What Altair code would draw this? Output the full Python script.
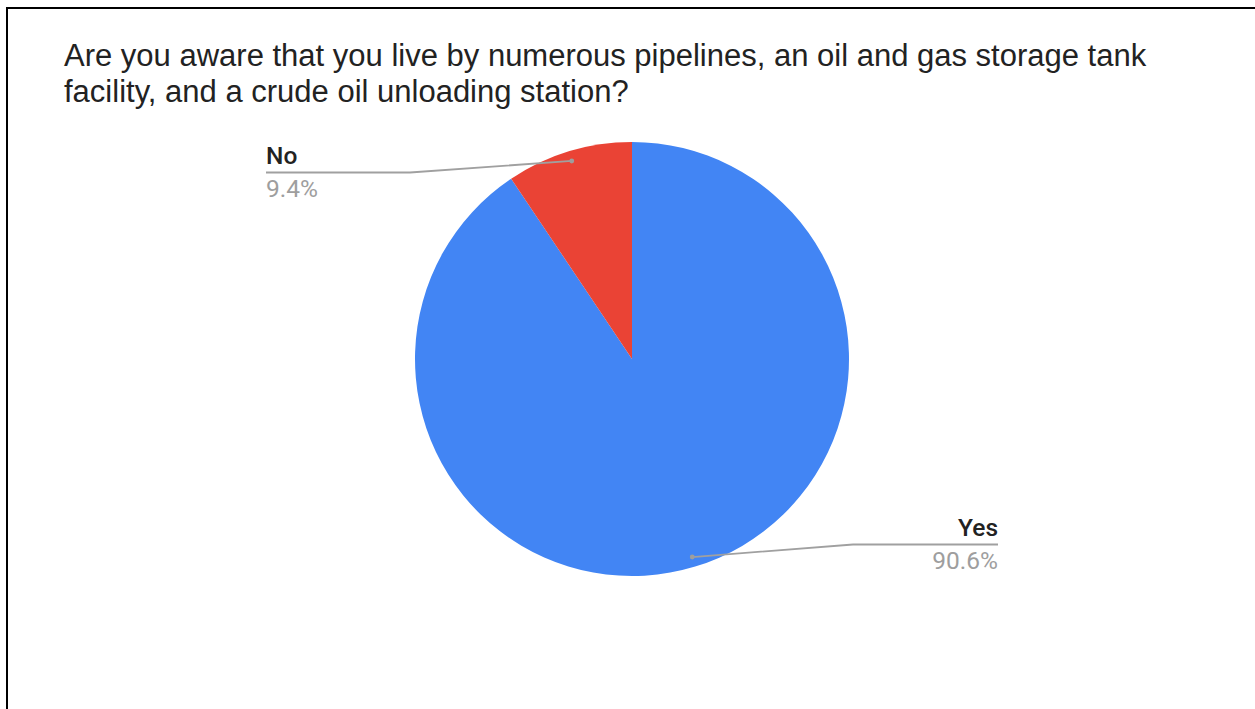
import math
import altair as alt
import pandas as pd

# ---- data ----
categories = ["Yes", "No"]
values = [90.6, 9.4]
pct_labels = ["90.6%", "9.4%"]
title_lines = [
    "Are you aware that you live by numerous pipelines, an oil and gas storage tank",
    "facility, and a crude oil unloading station?",
]

# ---- layout (positions / styles) ----
W, H = 1255, 709
CX, CY, R = 632, 359, 217
DOT_R = 0.954 * R
BLUE, RED = "#4285F4", "#EA4335"
side_layout = {
    # side: (elbow_x, line_y, end_x)
    "right": (853, 544.5, 998),
    "left": (410, 172.5, 266),
}

pie_df = pd.DataFrame({"category": categories, "value": values,
                       "idx": list(range(len(categories)))})

# leader lines derived from the slice mid-angles
total = sum(values)
rows, lab = [], []
cum = 0.0
for cat, v, p in zip(categories, values, pct_labels):
    mid = (cum + v / 2) / total * 2 * math.pi
    cum += v
    dx, dy = CX + DOT_R * math.sin(mid), CY - DOT_R * math.cos(mid)
    side = "right" if math.sin(mid) >= 0 else "left"
    ex, ly, endx = side_layout[side]
    rows += [
        {"category": cat, "step": 0, "px": dx, "py": dy},
        {"category": cat, "step": 1, "px": ex, "py": ly},
        {"category": cat, "step": 2, "px": endx, "py": ly},
    ]
    lab.append({"category": cat, "pct": p, "side": side, "dotx": dx, "doty": dy,
                "tx": endx, "ny": ly - 8.5, "py": ly + 24.5})
line_df = pd.DataFrame(rows)
lab_df = pd.DataFrame(lab)

pie = alt.Chart(pie_df).mark_arc(radius=R).encode(
    theta=alt.Theta("value:Q", stack=True),
    order=alt.Order("idx:O"),
    color=alt.Color("category:N", scale=alt.Scale(domain=categories, range=[BLUE, RED]), legend=None),
    x=alt.value(CX),
    y=alt.value(CY),
)

lines = alt.Chart(line_df).mark_line(color="#a0a0a0", strokeWidth=1.8).encode(
    x=alt.X("px:Q", scale=None),
    y=alt.Y("py:Q", scale=None),
    detail="category:N",
    order="step:O",
)

dots = alt.Chart(lab_df).mark_circle(color="#9e9e9e", size=24, opacity=1).encode(
    x=alt.X("dotx:Q", scale=None),
    y=alt.Y("doty:Q", scale=None),
)

def side_text(side, align):
    base = alt.Chart(lab_df).transform_filter(alt.datum.side == side)
    name = base.mark_text(align=align, baseline="alphabetic", font="Roboto", fontSize=24.5,
                          fontWeight=500, color="#222222").encode(
        x=alt.X("tx:Q", scale=None), y=alt.Y("ny:Q", scale=None), text="category:N")
    pct = base.mark_text(align=align, baseline="alphabetic", font="Roboto", fontSize=24.5,
                         color="#9e9e9e").encode(
        x=alt.X("tx:Q", scale=None), y=alt.Y("py:Q", scale=None), text="pct:N")
    return name + pct

title = alt.Chart(pd.DataFrame({"t": ["\n".join(title_lines)]})).mark_text(
    align="left", baseline="alphabetic", font="Liberation Sans", fontSize=31,
    color="#222222", lineBreak="\n", lineHeight=36.5,
).encode(x=alt.value(64), y=alt.value(65.5), text="t:N")

border_left = alt.Chart(pie_df).mark_rule(color="#000000", strokeWidth=2).encode(
    x=alt.value(7), y=alt.value(7), y2=alt.value(H))
border_top = alt.Chart(pie_df).mark_rule(color="#000000", strokeWidth=2).encode(
    x=alt.value(6), x2=alt.value(W), y=alt.value(8))

chart = alt.layer(
    pie, lines, dots, side_text("left", "left"), side_text("right", "right"),
    title, border_left, border_top,
).properties(
    width=W, height=H, padding=0, autosize=alt.AutoSizeParams(type="none"),
    background="white",
).configure_view(stroke=None)

chart.save("out.html", embed_options={"renderer": "svg", "actions": False})
